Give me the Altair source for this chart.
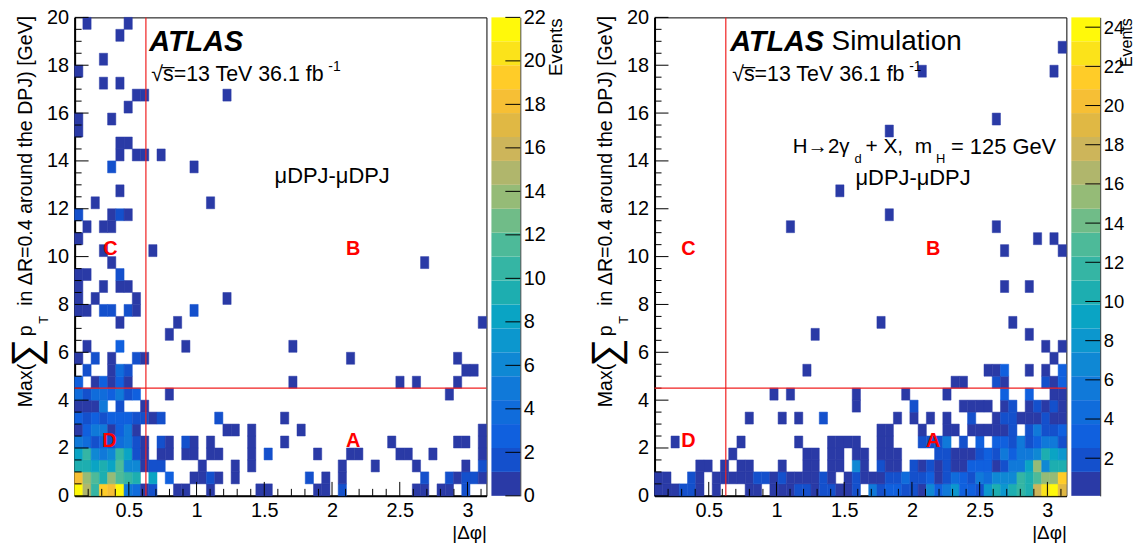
import altair as alt
import pandas as pd

FONT = "Liberation Sans"
W, H = 414, 481
BAR_W = 29
X_MIN, X_MAX, X_STEP = 0.1, 3.14, 0.0608
Y_MAX, Y_STEP = 20, 0.5

palette = ["#2A3AA6", "#1450CC", "#1060DE", "#106CDB", "#1079D9", "#0F88D4", "#0C97CE",
           "#0AA4C4", "#1DAEB0", "#35B5A4", "#4DBA99", "#70BC88", "#95BB77", "#B0B66C",
           "#CDB55A", "#E0B844", "#F6BF35", "#FFCC28", "#FBE31A", "#FFF90A"]

# (phi bin, events) for each pT bin of the data panel
left_rows = {
    0: [(0,21),(1,15),(2,10),(3,19),(4,18),(5,22),(6,5),(7,4),(8,1),(9,2),(12,1),(13,1),(16,1),(22,1),(23,1),(29,1),(30,1),(32,2),(41,1),(42,1),(44,1),(45,1),(47,2)],
    1: [(0,18),(1,14),(2,12),(3,9),(4,14),(5,12),(6,10),(7,9),(9,8),(11,3),(14,1),(15,1),(16,2),(17,1),(19,1),(28,2),(30,1),(32,1),(42,2),(45,2),(46,1),(47,2),(48,2),(49,1)],
    2: [(0,9),(1,9),(2,8),(3,9),(4,8),(5,12),(6,6),(7,6),(8,1),(9,2),(10,2),(15,1),(19,1),(21,1),(32,1),(36,1),(41,1),(47,1),(49,2)],
    3: [(0,8),(1,10),(2,6),(3,5),(4,6),(5,10),(6,8),(7,2),(8,1),(10,1),(11,1),(13,1),(14,1),(16,1),(17,1),(21,1),(23,2),(29,1),(33,1),(34,1),(39,1),(40,1),(43,1),(49,1)],
    4: [(0,5),(1,4),(2,2),(3,3),(4,2),(5,4),(6,5),(7,2),(8,1),(10,2),(11,1),(13,2),(14,1),(16,1),(21,1),(25,1),(38,1),(46,1),(47,1),(49,1)],
    5: [(0,1),(1,3),(2,5),(3,5),(4,1),(5,3),(6,5),(7,1),(18,1),(19,1),(21,1),(27,1),(49,1)],
    6: [(0,3),(1,2),(2,3),(3,2),(4,3),(5,3),(6,3),(7,2),(8,2),(9,1),(10,2),(17,2),(25,1)],
    7: [(0,1),(1,1),(2,1),(3,5),(5,2),(8,1)],
    8: [(0,4),(1,2),(2,4),(3,4),(4,3),(5,5),(6,2),(7,3),(11,1),(45,1)],
    9: [(0,3),(2,1),(3,3),(4,1),(5,3),(6,1),(26,1),(39,1),(41,1),(46,1)],
    10: [(1,2),(4,1),(5,4),(6,2),(47,1),(48,1)],
    11: [(0,1),(2,2),(4,1),(7,2),(8,1),(33,1),(46,1)],
    12: [(1,1),(5,3),(13,1),(26,1)],
    13: [(11,1)],
    14: [(5,1),(12,1),(49,1)],
    15: [(0,1),(1,1),(3,2),(4,2),(6,2),(7,1),(14,2)],
    16: [(0,1),(2,1),(7,1),(18,1)],
    17: [(0,1),(3,1),(5,1),(6,1)],
    18: [(0,1),(1,1),(5,2)],
    19: [(4,1),(42,1)],
    20: [(3,1),(9,1)],
    21: [(0,1)],
    22: [(1,1),(3,1),(4,1)],
    23: [(0,2),(4,1),(5,2),(6,1)],
    24: [(2,1),(16,1)],
    25: [(5,1)],
    27: [(4,2),(14,1)],
    28: [(5,1),(7,1),(8,1),(10,1)],
    29: [(5,1),(6,1)],
    30: [(0,1)],
    31: [(0,1),(4,1)],
    32: [(6,1)],
    33: [(7,1),(8,1),(18,1)],
    34: [(3,1),(5,1)],
    35: [(0,1)],
    36: [(3,1)],
    38: [(5,1)],
    39: [(1,1),(6,1)],
}

# (phi bin, events) for each pT bin of the simulation panel
right_rows = {
    0: [(0,1),(1,1),(2,1),(3,2),(4,2),(5,1),(7,1),(11,1),(12,1),(14,1),(15,1),(16,1),(17,2),(18,2),(19,1),(20,2),(21,2),(22,1),(23,1),(24,2),(26,5),(27,2),(28,3),(29,3),(30,2),(31,2),(32,1),(33,7),(34,3),(35,5),(36,8),(37,3),(38,3),(39,2),(40,8),(41,11),(42,8),(43,11),(44,12),(45,11),(46,18),(47,23),(48,24),(49,19)],
    1: [(0,1),(1,1),(4,2),(5,1),(7,1),(8,1),(9,1),(10,1),(11,1),(12,2),(13,2),(14,1),(15,2),(16,1),(17,1),(18,1),(19,1),(20,2),(21,1),(23,1),(24,2),(25,1),(26,1),(27,1),(28,2),(29,2),(30,4),(31,2),(32,2),(33,3),(34,1),(35,2),(36,4),(37,3),(38,2),(39,6),(40,4),(41,7),(42,7),(43,7),(44,12),(45,11),(46,13),(47,15),(48,15),(49,21)],
    2: [(5,1),(6,1),(8,1),(10,1),(11,1),(15,1),(18,1),(19,1),(21,1),(22,1),(24,7),(25,1),(27,2),(28,1),(29,1),(31,2),(32,1),(33,2),(34,1),(35,2),(36,1),(37,1),(38,3),(39,3),(40,3),(41,1),(42,2),(43,5),(44,5),(45,9),(46,15),(47,7),(48,10),(49,10)],
    3: [(9,1),(18,1),(19,1),(21,1),(22,1),(24,1),(25,1),(27,1),(28,1),(29,1),(34,2),(35,2),(36,1),(37,1),(38,1),(39,2),(40,3),(41,2),(42,6),(43,3),(44,5),(45,5),(46,7),(47,10),(48,9),(49,8)],
    4: [(2,1),(10,1),(17,1),(21,1),(22,1),(23,1),(24,1),(27,1),(28,1),(32,2),(33,2),(34,2),(35,6),(37,2),(39,3),(41,3),(42,3),(43,2),(44,5),(45,2),(46,3),(47,5),(48,5),(49,2)],
    5: [(27,1),(28,1),(32,1),(35,1),(36,1),(38,1),(39,1),(40,1),(41,1),(42,1),(43,2),(45,2),(46,6),(47,2),(48,2),(49,3)],
    6: [(11,1),(15,1),(17,1),(20,2),(29,1),(31,1),(33,1),(35,1),(38,2),(41,1),(42,2),(43,2),(44,1),(45,1),(46,1),(47,2),(48,1),(49,1)],
    7: [(24,1),(31,2),(37,1),(38,1),(39,1),(40,1),(42,1),(43,2),(45,1),(46,2),(47,1),(48,2),(49,1)],
    8: [(14,1),(16,1),(24,1),(30,1),(35,1),(42,3),(45,3),(48,1),(49,1)],
    9: [(36,1),(37,1),(41,2),(42,1),(47,2),(48,1),(49,3)],
    10: [(18,1),(40,1),(41,1),(42,3),(45,1),(47,1),(49,3)],
    11: [(48,1)],
    12: [(47,1),(49,1)],
    13: [(19,1),(45,1)],
    14: [(27,1),(43,1)],
    17: [(42,1),(45,1)],
    20: [(42,1),(49,1)],
    21: [(46,1),(48,1)],
    22: [(16,1),(41,1)],
    23: [(28,1)],
    25: [(22,1)],
    30: [(28,1)],
    31: [(41,1)],
    35: [(32,1),(48,1)],
    37: [(49,1)],
}

x_major = [0.5, 1, 1.5, 2, 2.5, 3]
x_minor = [round(0.2 + 0.1 * i, 1) for i in range(30) if round(0.2 + 0.1 * i, 1) not in x_major]
y_major = list(range(0, 21, 2))
y_minor = [i * 0.5 for i in range(41) if i % 4 != 0]
phi_cut, pt_cut = 0.626, 4.5


def cells(rows, vmin, vmax):
    out = []
    step = (vmax - vmin) / len(palette)
    for iy, row in rows.items():
        for ix, v in row:
            out.append({"x0": X_MIN + ix * X_STEP, "x1": X_MIN + (ix + 1) * X_STEP,
                        "y0": iy * Y_STEP, "y1": (iy + 1) * Y_STEP, "v": v,
                        "band": min(int((v - vmin) / step), len(palette) - 1)})
    return pd.DataFrame(out)


def label(text, x, y, size=20, angle=None, color="black", align="left", weight="normal",
          style="normal", font=FONT):
    kw = {"angle": angle} if angle is not None else {}
    return alt.Chart(pd.DataFrame({"t": [text]})).mark_text(
        text=text, fontSize=size, font=font, color=color, align=align,
        baseline="middle", fontWeight=weight, fontStyle=style, **kw
    ).encode(x=alt.value(x), y=alt.value(y))


def panel(rows, vmin, vmax, notes):
    xs = alt.Scale(domain=[X_MIN, X_MAX], nice=False, zero=False)
    ys = alt.Scale(domain=[0, Y_MAX], nice=False, zero=False)
    xax = alt.Axis(values=x_major, format="~g", tickSize=0, labelPadding=5, labelFontSize=20, labelFont=FONT,
                   labelColor="black", grid=False, domainColor="black", domainWidth=2, labelFlush=False,
                   labelOverlap=False, title="|Δφ|", titleAnchor="end", titleFontSize=19, titleFont=FONT,
                   titleFontWeight="normal", titlePadding=3, titleColor="black")
    yax = alt.Axis(values=y_major, tickSize=0, labelPadding=6, labelFontSize=20, labelFont=FONT,
                   labelColor="black", grid=False, domainColor="black", domainWidth=2, labelFlush=False,
                   labelOverlap=False, title=None)
    band_scale = alt.Scale(domain=list(range(len(palette))), range=palette)
    heat = alt.Chart(cells(rows, vmin, vmax)).mark_rect(strokeWidth=0.5).encode(
        x=alt.X("x0:Q", scale=xs, axis=xax),
        x2="x1:Q",
        y=alt.Y("y0:Q", scale=ys, axis=yax),
        y2="y1:Q",
        color=alt.Color("band:O", scale=band_scale, legend=None),
        stroke=alt.Stroke("band:O", scale=band_scale, legend=None),
    )
    def xticks(vals, length):
        return alt.Chart(pd.DataFrame({"x": vals})).mark_rule(color="black", strokeWidth=1).encode(
            x=alt.X("x:Q", scale=xs, axis=xax), y=alt.value(H), y2=alt.value(H - length))
    def yticks(vals, length):
        return alt.Chart(pd.DataFrame({"y": vals})).mark_rule(color="black", strokeWidth=1).encode(
            y=alt.Y("y:Q", scale=ys, axis=yax), x=alt.value(0), x2=alt.value(length))
    cut_x = alt.Chart(pd.DataFrame({"x": [phi_cut]})).mark_rule(color="#F02020", strokeWidth=1.2).encode(
        x=alt.X("x:Q", scale=xs, axis=xax))
    cut_y = alt.Chart(pd.DataFrame({"y": [pt_cut]})).mark_rule(color="#F02020", strokeWidth=1.2).encode(
        y=alt.Y("y:Q", scale=ys, axis=yax))
    title_parts = [
        label("Max(", 25 - 74, 407 - 15, 19.7, 270),
        label("∑", 26 - 74, 352 - 15, 40, 270, align="center"),
        label("p", 25 - 74, 330 - 15, 19.7, 270, align="center"),
        label("T", 43 - 74, 319 - 15, 13, 270, align="center"),
        label("in ΔR=0.4 around the DPJ) [GeV]", 25 - 74, 305 - 15, 19.7, 270),
    ]
    return alt.layer(heat, xticks(x_major, 14), xticks(x_minor, 7), yticks(y_major, 14), yticks(y_minor, 7),
                     cut_x, cut_y, *title_parts, *notes).properties(width=W, height=H)


def colorbar(vmin, vmax, ticks, events_x, events_size, label_size):
    n = len(palette)
    step = (vmax - vmin) / n
    df = pd.DataFrame({"lo": [vmin + i * step for i in range(n)],
                       "hi": [vmin + (i + 1) * step for i in range(n)],
                       "c": palette})
    ys = alt.Scale(domain=[vmin, vmax], nice=False, zero=False)
    ax = alt.Axis(orient="right", values=ticks, tickSize=0, labelPadding=3, labelFontSize=label_size, labelFont=FONT,
                  labelColor="black", grid=False, domainColor="#222222", domainWidth=1, labelFlush=False,
                  labelOverlap=False, title=None)
    bands = alt.Chart(df).mark_rect().encode(
        y=alt.Y("lo:Q", scale=ys, axis=ax), y2="hi:Q",
        x=alt.value(0), x2=alt.value(BAR_W), color=alt.Color("c:N", scale=None, legend=None))
    tk = alt.Chart(pd.DataFrame({"y": ticks})).mark_rule(color="black", strokeWidth=1).encode(
        y=alt.Y("y:Q", scale=ys, axis=ax), x=alt.value(BAR_W - 15), x2=alt.value(BAR_W))
    ev = label("Events", events_x, 1, events_size, 270, align="right")
    return alt.layer(bands, tk, ev).properties(width=BAR_W, height=H, view=alt.ViewConfig(stroke=None))


T0 = 15
L0 = 74
left_notes = [
    label("ATLAS", 149 - L0, 40 - T0, 29, weight="bold", style="italic"),
    label("√s\u0305=13 TeV 36.1 fb", 151 - L0, 73 - T0, 21.5),
    label("-1", 329 - L0, 65 - T0, 14),
    label("μDPJ-μDPJ", 275 - L0, 175 - T0, 22),
    label("C", 110 - L0, 248 - T0, 20, color="red", weight="bold", align="center"),
    label("B", 354 - L0, 248 - T0, 20, color="red", weight="bold", align="center"),
    label("D", 109 - L0, 441 - T0, 20, color="red", weight="bold", align="center"),
    label("A", 354 - L0, 441 - T0, 20, color="red", weight="bold", align="center"),
]
R0 = 654
right_notes = [
    label("ATLAS", 730 - R0, 40 - T0, 29, weight="bold", style="italic"),
    label("Simulation", 832 - R0, 40 - T0, 28),
    label("√s\u0305=13 TeV 36.1 fb", 732 - R0, 73 - T0, 21.5),
    label("-1", 910 - R0, 65 - T0, 14),
    label("H→2γ", 793 - R0, 145 - T0, 20.5),
    label("d", 855 - R0, 157 - T0, 13),
    label("+ X,\u00a0\u00a0m", 866 - R0, 145 - T0, 21),
    label("H", 937 - R0, 157 - T0, 13),
    label("= 125 GeV", 952 - R0, 145 - T0, 22),
    label("μDPJ-μDPJ", 856 - R0, 177 - T0, 22),
    label("C", 688 - R0, 248 - T0, 20, color="red", weight="bold", align="center"),
    label("B", 934 - R0, 248 - T0, 20, color="red", weight="bold", align="center"),
    label("D", 688 - R0, 441 - T0, 20, color="red", weight="bold", align="center"),
    label("A", 934 - R0, 441 - T0, 20, color="red", weight="bold", align="center"),
]

left_group = alt.hconcat(panel(left_rows, 0, 22, left_notes), colorbar(0, 22, list(range(0, 23, 2)), 65, 19, 20), spacing=3)
right_group = alt.hconcat(panel(right_rows, 0.08, 24.5, right_notes), colorbar(0.08, 24.5, list(range(2, 25, 2)), 56, 16, 18.5), spacing=3)

chart = alt.hconcat(left_group, right_group, spacing=20).properties(
    padding={"left": -2, "top": -3, "right": 0, "bottom": 0}
).configure_view(stroke="black", strokeWidth=1).configure_concat(spacing=3)

chart.save("out.html", embed_options={"renderer": "svg", "actions": False})
